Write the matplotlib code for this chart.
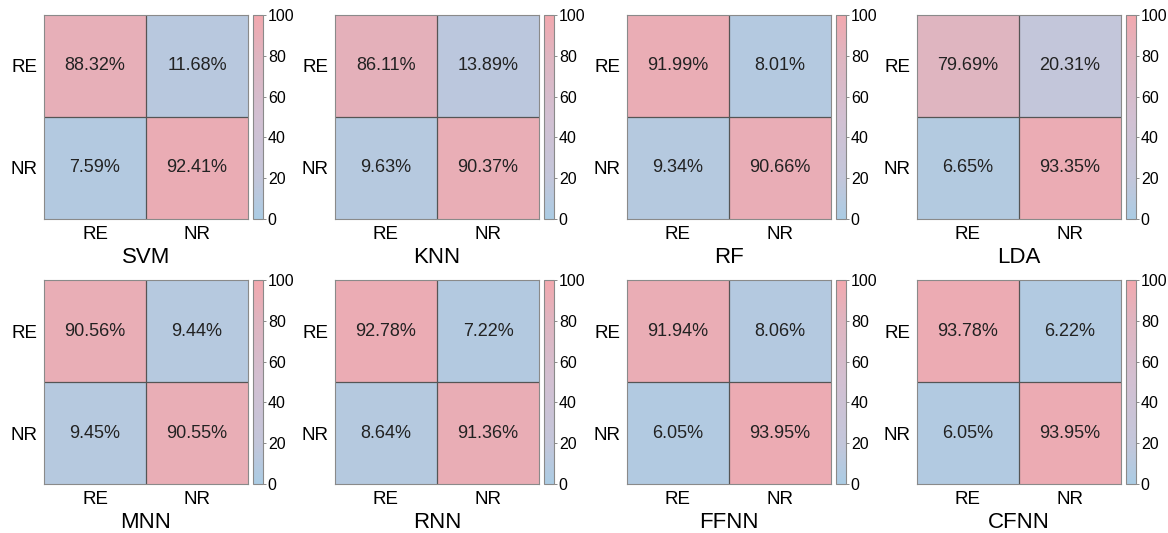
import numpy as np
import matplotlib
matplotlib.use("Agg")
import matplotlib.pyplot as plt
from matplotlib.colors import LinearSegmentedColormap

plt.rcParams['font.family'] = ['Liberation Sans', 'DejaVu Sans']

# confusion matrices in percent, rows = true class, cols = predicted class
models = ["SVM", "KNN", "RF", "LDA", "MNN", "RNN", "FFNN", "CFNN"]
svm = [[88.32, 11.68], [7.59, 92.41]]
knn = [[86.11, 13.89], [9.63, 90.37]]
rf = [[91.99, 8.01], [9.34, 90.66]]
lda = [[79.69, 20.31], [6.65, 93.35]]
mnn = [[90.56, 9.44], [9.45, 90.55]]
rnn = [[92.78, 7.22], [8.64, 91.36]]
ffnn = [[91.94, 8.06], [6.05, 93.95]]
cfnn = [[93.78, 6.22], [6.05, 93.95]]
matrices = [svm, knn, rf, lda, mnn, rnn, ffnn, cfnn]
classes = ["RE", "NR"]
cbar_ticks = [0, 20, 40, 60, 80, 100]

cmap = LinearSegmentedColormap.from_list(
    "bluepink",
    [(0.0, "#abcce4"), (0.2, "#c3c6da"), (0.5, "#d2c0d2"),
     (0.8, "#dfb5c0"), (1.0, "#f2a8ae")])

W, H = 1168, 533
fig = plt.figure(figsize=(W / 100, H / 100), dpi=100)


def px_axes(x0, y0, x1, y1):
    # axes from pixel box (top-left origin)
    return fig.add_axes([x0 / W, 1 - y1 / H, (x1 - x0) / W, (y1 - y0) / H])


col_x = [44, 335, 627, 917]
row_y = [15, 280]
size = 204

for i, (name, mat) in enumerate(zip(models, matrices)):
    x0 = col_x[i % 4]
    y0 = row_y[i // 4]
    ax = px_axes(x0, y0, x0 + size, y0 + size)
    data = np.array(mat)
    im = ax.imshow(data, cmap=cmap, vmin=0, vmax=100, aspect="auto",
                   extent=(0, 2, 2, 0))
    ax.axhline(1, color="#555555", lw=0.9)
    ax.axvline(1, color="#555555", lw=0.9)
    ax.set_xlim(0, 2)
    ax.set_ylim(2, 0)
    for r in range(2):
        for c in range(2):
            ax.text(c + 0.5, r + 0.5, f"{data[r, c]:.2f}%", ha="center",
                    va="center", fontsize=13, color="#222222")
    ax.set_xticks([0.5, 1.5])
    ax.set_xticklabels(classes, fontsize=13.5)
    ax.set_yticks([0.5, 1.5])
    ax.set_yticklabels(classes, fontsize=13.5)
    ax.tick_params(axis="x", length=0, pad=5)
    ax.tick_params(axis="y", length=0, pad=4.5)
    ax.set_xlabel(name, fontsize=16, labelpad=3)
    for sp in ax.spines.values():
        sp.set_color("#8a8a8a")
        sp.set_linewidth(0.8)

    cax = px_axes(x0 + size + 5, y0, x0 + size + 15, y0 + size)
    cb = fig.colorbar(im, cax=cax, ticks=cbar_ticks)
    cb.outline.set_edgecolor("#8a8a8a")
    cb.outline.set_linewidth(0.8)
    cax.tick_params(labelsize=11.5, length=2.5, width=0.6, color="#777777",
                    pad=1)

fig.savefig("out.png", dpi=100)
